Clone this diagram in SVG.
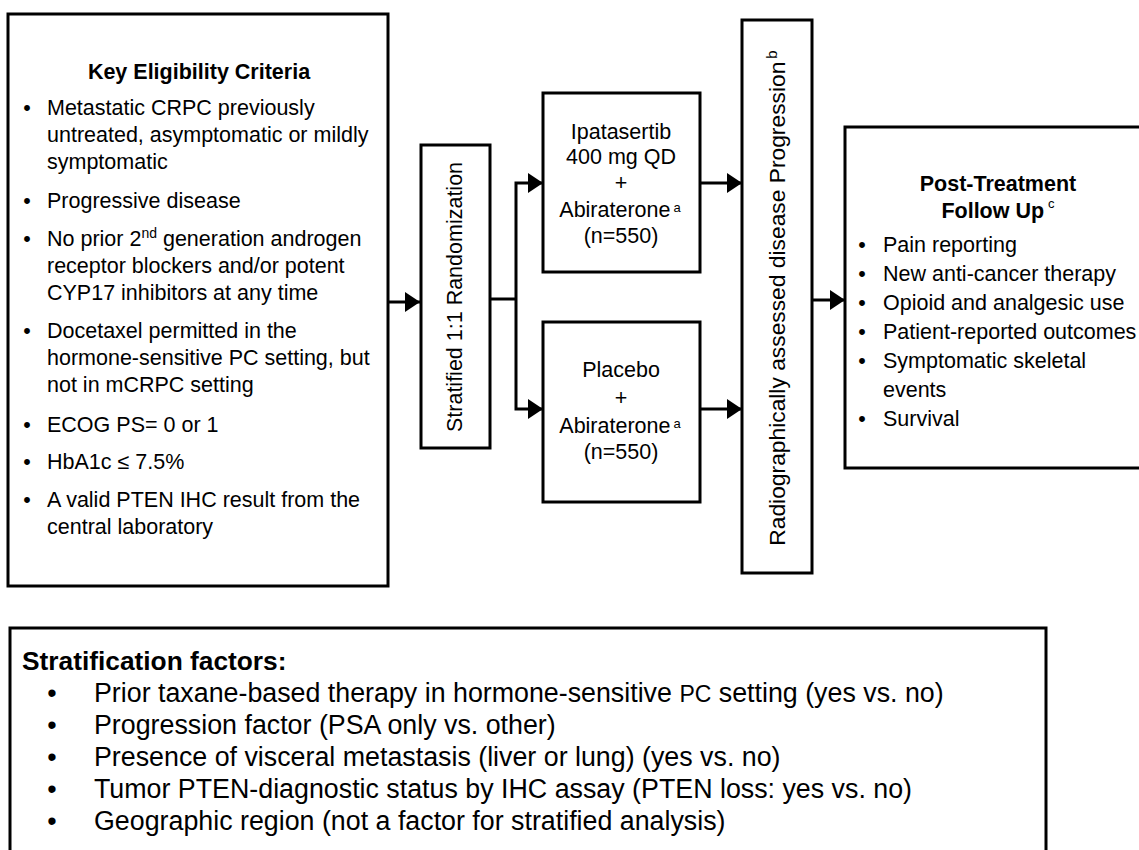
<svg xmlns="http://www.w3.org/2000/svg" width="1139" height="850" viewBox="0 0 1139 850">
<defs>
<style>
.box{fill:#fff;stroke:#000;stroke-width:3}
.t{font-family:"Liberation Sans",Arial,sans-serif;font-size:21.5px;fill:#000}
.b{font-weight:bold}
.c{text-anchor:middle}
.lg{font-size:26.8px}
.conn{fill:none;stroke:#000;stroke-width:3;stroke-linejoin:miter}
</style>
<marker id="ah" markerUnits="userSpaceOnUse" markerWidth="15" markerHeight="20" refX="15" refY="10" orient="auto" viewBox="0 0 15 20"><path d="M0,0 L15,10 L0,20 z" fill="#000"/></marker>
</defs>
<rect width="1139" height="850" fill="#fff"/>

<g id="connectors">
<path class="conn" d="M388,302 H420" marker-end="url(#ah)"/>
<path class="conn" d="M490,299 H516"/>
<path class="conn" d="M516,299 V183 H543" marker-end="url(#ah)"/>
<path class="conn" d="M516,299 V409 H543" marker-end="url(#ah)"/>
<path class="conn" d="M700,183 H742" marker-end="url(#ah)"/>
<path class="conn" d="M700,409 H742" marker-end="url(#ah)"/>
<path class="conn" d="M812,300 H845" marker-end="url(#ah)"/>
</g>

<g id="eligibility">
<rect class="box" x="8" y="14" width="380" height="572"/>
<text class="t b c" x="199" y="79">Key Eligibility Criteria</text>
<g class="t">
<text class="c" x="27" y="115">•</text>
<text x="47" y="115">Metastatic CRPC previously</text>
<text x="47" y="142">untreated, asymptomatic or mildly</text>
<text x="47" y="169">symptomatic</text>
<text class="c" x="27" y="208">•</text>
<text x="47" y="208">Progressive disease</text>
<text class="c" x="27" y="246">•</text>
<text x="47" y="246">No prior 2<tspan font-size="14" dy="-8">nd</tspan><tspan dy="8"> generation androgen</tspan></text>
<text x="47" y="273">receptor blockers and/or potent</text>
<text x="47" y="300">CYP17 inhibitors at any time</text>
<text class="c" x="27" y="338">•</text>
<text x="47" y="338">Docetaxel permitted in the</text>
<text x="47" y="365">hormone-sensitive PC setting, but</text>
<text x="47" y="392">not in mCRPC setting</text>
<text class="c" x="27" y="432">•</text>
<text x="47" y="432">ECOG PS= 0 or 1</text>
<text class="c" x="27" y="469">•</text>
<text x="47" y="469">HbA1c ≤ 7.5%</text>
<text class="c" x="27" y="507">•</text>
<text x="47" y="507">A valid PTEN IHC result from the</text>
<text x="47" y="534">central laboratory</text>
</g>
</g>

<g id="randomization">
<rect class="box" x="421" y="145" width="69" height="303"/>
<text class="t c" transform="translate(462,297) rotate(-90)">Stratified 1:1 Randomization</text>
</g>

<g id="ipatasertib-arm">
<rect class="box" x="543" y="93" width="157" height="179"/>
<g class="t c">
<text x="621" y="139">Ipatasertib</text>
<text x="621" y="164">400 mg QD</text>
<text x="621" y="190">+</text>
<text x="620" y="217">Abiraterone<tspan font-size="13" dx="3" dy="-5">a</tspan></text>
<text x="621" y="243">(n=550)</text>
</g>
</g>

<g id="placebo-arm">
<rect class="box" x="543" y="322" width="157" height="180"/>
<g class="t c">
<text x="621" y="377">Placebo</text>
<text x="621" y="405">+</text>
<text x="620" y="433">Abiraterone<tspan font-size="13" dx="3" dy="-5">a</tspan></text>
<text x="621" y="459">(n=550)</text>
</g>
</g>

<g id="progression">
<rect class="box" x="742" y="20" width="70" height="553"/>
<text class="t c" style="font-size:22.8px" transform="translate(785,298) rotate(-90)">Radiographically assessed disease Progression<tspan font-size="15" dx="3" dy="-8">b</tspan></text>
</g>

<g id="follow-up">
<rect class="box" x="845" y="127" width="310" height="341"/>
<text class="t b c" x="998" y="191">Post-Treatment</text>
<text class="t b c" x="998" y="218">Follow Up<tspan font-size="13" font-weight="normal" dx="4" dy="-10">c</tspan></text>
<g class="t">
<text class="c" x="862" y="252">•</text>
<text x="883" y="252">Pain reporting</text>
<text class="c" x="862" y="281">•</text>
<text x="883" y="281">New anti-cancer therapy</text>
<text class="c" x="862" y="310">•</text>
<text x="883" y="310">Opioid and analgesic use</text>
<text class="c" x="862" y="339">•</text>
<text x="883" y="339">Patient-reported outcomes</text>
<text class="c" x="862" y="368">•</text>
<text x="883" y="368">Symptomatic skeletal</text>
<text x="883" y="397">events</text>
<text class="c" x="862" y="426">•</text>
<text x="883" y="426">Survival</text>
</g>
</g>

<g id="stratification-factors">
<rect class="box" x="10" y="628" width="1036" height="240"/>
<text class="t b" style="font-size:26.3px" x="22" y="670">Stratification factors:</text>
<g class="t lg">
<text class="c" x="52" y="702">•</text>
<text x="94" y="702">Prior taxane-based therapy in hormone-sensitive <tspan font-size="23">PC</tspan> setting (yes vs. no)</text>
<text class="c" x="52" y="734">•</text>
<text x="94" y="734">Progression factor (PSA only vs. other)</text>
<text class="c" x="52" y="766">•</text>
<text x="94" y="766">Presence of visceral metastasis (liver or lung) (yes vs. no)</text>
<text class="c" x="52" y="798">•</text>
<text x="94" y="798">Tumor PTEN-diagnostic status by IHC assay (PTEN loss: yes vs. no)</text>
<text class="c" x="52" y="830">•</text>
<text x="94" y="830">Geographic region (not a factor for stratified analysis)</text>
</g>
</g>
</svg>
